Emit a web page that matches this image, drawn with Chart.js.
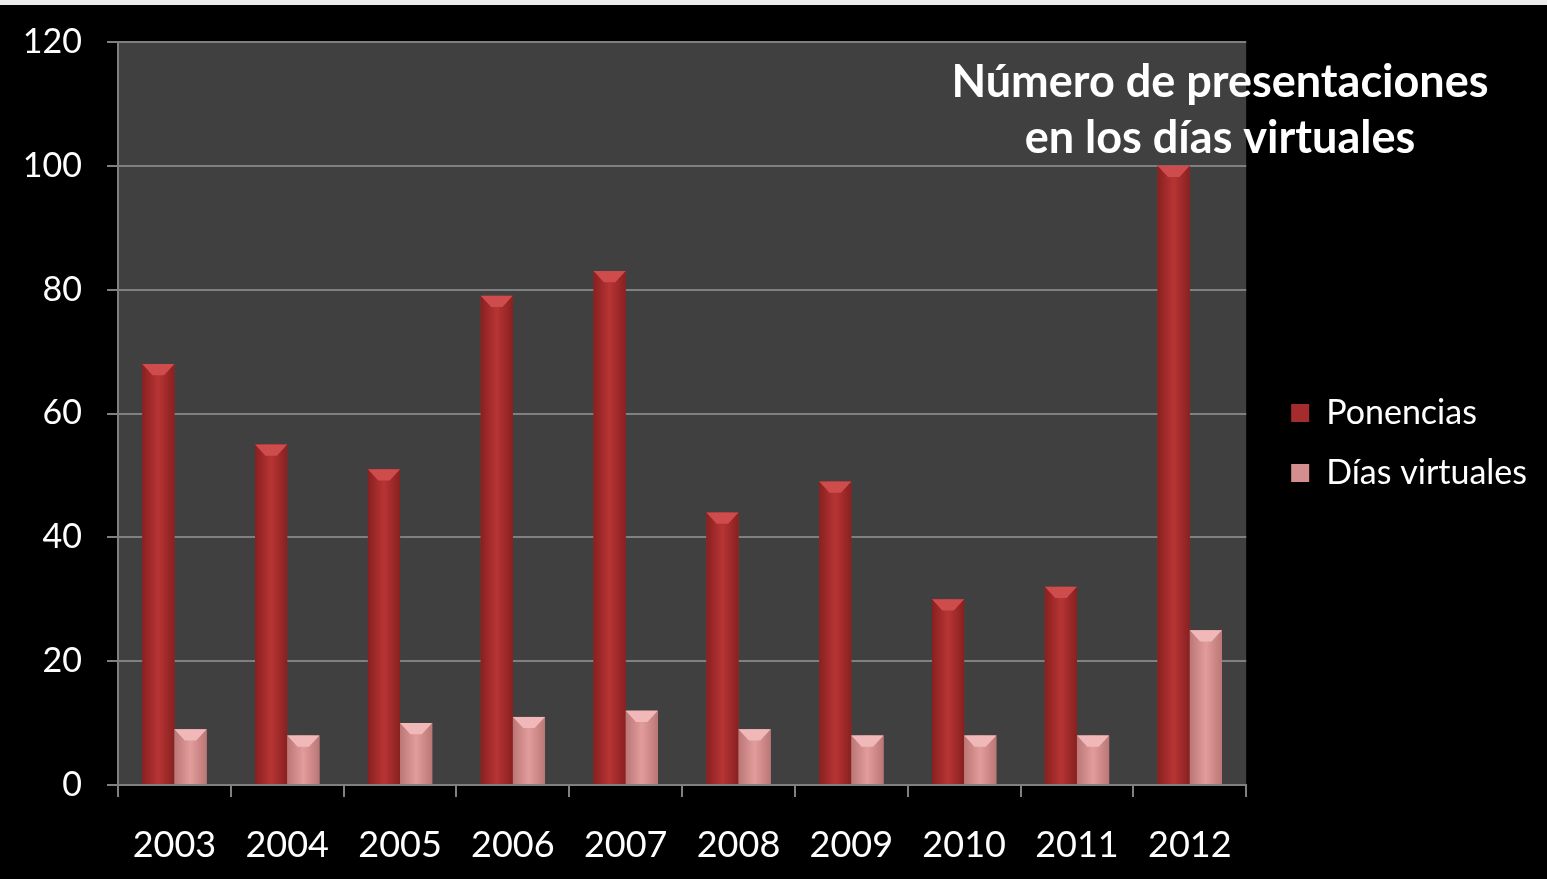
<!DOCTYPE html>
<html><head><meta charset="utf-8">
<script src="https://cdn.jsdelivr.net/npm/chart.js@4.4.1/dist/chart.umd.min.js"></script>
<style>
html,body{margin:0;padding:0;background:#000;overflow:hidden;}
#wrap{position:relative;width:1547px;height:879px;}
#strip{position:absolute;left:0;top:0;width:1547px;height:5px;background:#ececec;}
</style></head>
<body><div id="wrap"><canvas id="c" width="1547" height="879"></canvas><div id="strip"></div></div>
<script>
const years = ['2003','2004','2005','2006','2007','2008','2009','2010','2011','2012'];
const ponencias = [68,55,51,79,83,44,49,30,32,100];
const diasVirtuales = [9,8,10,11,12,9,8,8,8,25];
const seriesNames = ['Ponencias','Días virtuales'];
const titleLines = ['Número de presentaciones','en los días virtuales'];
const yTicks = [0,20,40,60,80,100,120];

const FONT = 'Lato, "Open Sans", sans-serif';

const bgPlugin = {
  id:'plotBg',
  beforeDraw(chart){
    const {ctx, chartArea:a} = chart;
    ctx.save();
    ctx.fillStyle = '#404040';
    ctx.fillRect(a.left, a.top, a.right-a.left, a.bottom-a.top);
    ctx.restore();
  }
};

const legendShift = {
  id:'legendShift',
  afterLayout(chart){
    const lg = chart.legend;
    if (lg) { lg.left += 19; lg.right += 19; lg.top -= 9; lg.bottom -= 9; }
  }
};

const shadePlugin = {
  id:'barShade',
  afterDatasetsDraw(chart){
    const ctx = chart.ctx;
    const palettes = [
      ['#882020','#b83434','#882020','#cf4c4c'],
      ['#bb7676','#e29c9c','#bb7676','#f0b8b8']
    ];
    chart.data.datasets.forEach((ds,di)=>{
      const meta = chart.getDatasetMeta(di);
      const p = palettes[di];
      meta.data.forEach(el=>{
        const l = el.x - el.width/2, r = el.x + el.width/2, t = el.y, b = el.base;
        const g = ctx.createLinearGradient(l,0,r,0);
        g.addColorStop(0,p[0]); g.addColorStop(0.5,p[1]); g.addColorStop(1,p[2]);
        ctx.save();
        ctx.fillStyle = g;
        ctx.fillRect(l,t,r-l,b-t);
        const bev = Math.min(8,(b-t)/2);
        ctx.beginPath();
        ctx.moveTo(l,t); ctx.lineTo(r,t); ctx.lineTo(r-bev*1.3, t+bev*1.4); ctx.lineTo(l+bev*1.3, t+bev*1.4); ctx.closePath();
        ctx.fillStyle = p[3];
        ctx.fill();
        ctx.restore();
      });
    });
  }
};

const titlePlugin = {
  id:'overTitle',
  afterDraw(chart){
    const ctx = chart.ctx;
    ctx.save();
    ctx.fillStyle = '#ffffff';
    ctx.font = 'bold 45px ' + FONT;
    ctx.textAlign = 'center';
    ctx.textBaseline = 'middle';
    ctx.fillText(titleLines[0], 1220, 82);
    ctx.fillText(titleLines[1], 1220, 138);
    ctx.restore();
  }
};

new Chart(document.getElementById('c'), {
  type:'bar',
  data:{
    labels: years,
    datasets:[
      {label:seriesNames[0], data:ponencias, backgroundColor:'#a52c2c', borderWidth:0, categoryPercentage:0.57, barPercentage:1},
      {label:seriesNames[1], data:diasVirtuales, backgroundColor:'#d48e8e', borderWidth:0, categoryPercentage:0.57, barPercentage:1}
    ]
  },
  options:{
    responsive:false,
    animation:false,
    layout:{padding:{left:25, top:42, right:29, bottom:17}},
    plugins:{
      legend:{
        position:'right',
        labels:{color:'#ffffff', font:{size:34, family:FONT}, boxWidth:18, boxHeight:18, padding:26}
      },
      title:{display:false},
      tooltip:{enabled:false}
    },
    scales:{
      x:{
        afterFit(axis){ axis.height = 77; },
        grid:{display:true, drawOnChartArea:false, color:'#808080', lineWidth:2, tickLength:12, offset:true},
        border:{color:'#808080', width:2},
        ticks:{color:'#ffffff', font:{size:36, family:FONT}, padding:27, maxRotation:0}
      },
      y:{
        min:0, max:120,
        afterFit(axis){ axis.width = 93; axis.paddingTop = 0; },
        afterBuildTicks(axis){ axis.ticks = yTicks.map(v=>({value:v})); },
        grid:{color:'#808080', lineWidth:2, tickLength:11},
        border:{color:'#808080', width:2},
        ticks:{color:'#ffffff', font:{size:34, family:FONT}, padding:25}
      }
    }
  },
  plugins:[bgPlugin, legendShift, shadePlugin, titlePlugin]
});
</script>
</body></html>
